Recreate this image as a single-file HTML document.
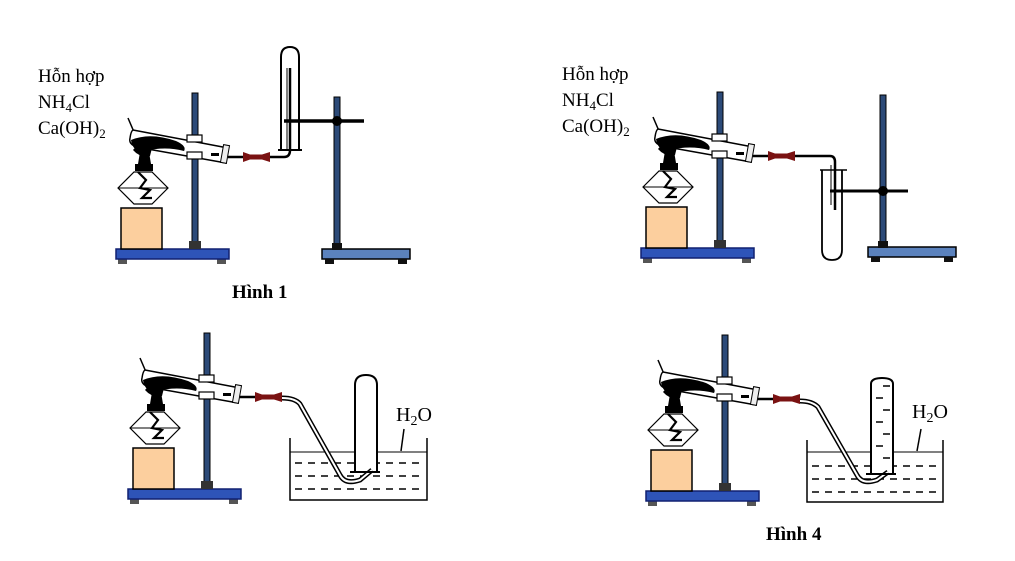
<!DOCTYPE html>
<html><head><meta charset="utf-8"><style>
html,body{margin:0;padding:0;background:#fff;width:1015px;height:561px;overflow:hidden}
svg{display:block}
text{font-family:"Liberation Serif",serif;fill:#000}
</style></head><body>
<svg width="1015" height="561" viewBox="0 0 1015 561" xmlns="http://www.w3.org/2000/svg">
<defs>
<g id="heat">
  <rect x="118" y="259" width="9" height="5" fill="#555"/>
  <rect x="217" y="259" width="9" height="5" fill="#555"/>
  <rect x="116" y="249" width="113" height="10" fill="#2e54b8" stroke="#102070" stroke-width="1.5"/>
  <rect x="192" y="93" width="6" height="150" fill="#2c4a78" stroke="#000" stroke-width="1"/>
  <rect x="189" y="241" width="12" height="8" fill="#333"/>
  <rect x="121" y="208" width="41" height="41" fill="#fccf9e" stroke="#000" stroke-width="1.5"/>
  <polygon points="118,188 134,172 152,172 168,188 152,204 134,204" fill="#fff" stroke="#000" stroke-width="1.2"/>
  <line x1="118" y1="188" x2="168" y2="188" stroke="#000" stroke-width="1"/>
  <path d="M138,172 L146,180 L140,188 L150,190 L142,198 L152,198" fill="none" stroke="#000" stroke-width="2.2"/>
  <rect x="135" y="164" width="18" height="7" fill="#000"/>
  <path d="M138,164 L140,152 Q144,145 149,152 L151,164 Z" fill="#000"/>
  <path d="M133,150 Q140,140 152,148 L150,156 Q140,158 133,150 Z" fill="#000"/>
  <line x1="128" y1="118" x2="134" y2="132" stroke="#000" stroke-width="1.5"/>
  <path d="M133,130 L228,148 L226,163 L142,148 Q128,146 130,138 Q131,131 133,130 Z" fill="#fff" stroke="#000" stroke-width="1.5"/>
  <path d="M131,140 Q150,132 176,141 Q187,146 184,151 Q165,146 145,151 Q133,153 131,140 Z" fill="#000"/>
  <rect x="211" y="153" width="8" height="3" fill="#000"/>
  <rect x="222" y="145" width="6" height="18" fill="#eee" stroke="#000" stroke-width="1" transform="rotate(10 225 154)"/>
  <rect x="187" y="135" width="15" height="7" fill="#fff" stroke="#000" stroke-width="1.2"/>
  <rect x="187" y="152" width="15" height="7" fill="#fff" stroke="#000" stroke-width="1.2"/>
  <line x1="228" y1="157" x2="245" y2="157" stroke="#000" stroke-width="2.5"/>
  <path d="M243,152 L250,154.5 L262,154.5 L270,152 L270,162 L262,159.5 L250,159.5 L243,162 Z" fill="#7a1212"/>
</g>
<g id="stand2">
  <rect x="0" y="152" width="88" height="10" fill="#5b82bd" stroke="#000" stroke-width="1.5"/>
  <rect x="3" y="162" width="9" height="5" fill="#111"/>
  <rect x="76" y="162" width="9" height="5" fill="#111"/>
  <rect x="12" y="0" width="6" height="148" fill="#2c4a78" stroke="#000" stroke-width="1"/>
  <rect x="10" y="146" width="10" height="7" fill="#111"/>
</g>
</defs>

<use href="#heat"/>
<use href="#stand2" x="322" y="97"/>
<line x1="284" y1="121" x2="364" y2="121" stroke="#000" stroke-width="3.5"/>
<circle cx="337" cy="121" r="5" fill="#000"/>
<path d="M281,150 L281,57 Q281,47 290,47 Q299,47 299,57 L299,150" fill="none" stroke="#000" stroke-width="2"/>
<line x1="278" y1="150" x2="302" y2="150" stroke="#000" stroke-width="2"/>
<path d="M270,157 L284,157 Q290,157 290,150 L290,68" fill="none" stroke="#000" stroke-width="2.5"/>
<line x1="287" y1="68" x2="287" y2="150" stroke="#000" stroke-width="1"/>

<use href="#heat" x="525" y="-1"/>
<use href="#stand2" x="868" y="95"/>
<line x1="830" y1="191" x2="908" y2="191" stroke="#000" stroke-width="3"/>
<circle cx="883" cy="191" r="5" fill="#000"/>
<path d="M822,170 L822,250 Q822,260 832,260 Q842,260 842,250 L842,170" fill="none" stroke="#000" stroke-width="1.8"/>
<line x1="820" y1="170" x2="847" y2="170" stroke="#000" stroke-width="1.5"/>
<path d="M795,156 L830,156 Q835,156 835,162 L835,210" fill="none" stroke="#000" stroke-width="2.5"/>
<line x1="831" y1="165" x2="831" y2="205" stroke="#000" stroke-width="1"/>

<use href="#heat" x="12" y="240"/>
<path d="M290,438 L290,500 L427,500 L427,438" fill="none" stroke="#000" stroke-width="1.5"/>
<line x1="290" y1="452" x2="427" y2="452" stroke="#000" stroke-width="1"/>
<g stroke="#000" stroke-width="1.5" stroke-dasharray="7,6">
<line x1="295" y1="463" x2="425" y2="463"/>
<line x1="295" y1="476" x2="425" y2="476"/>
<line x1="295" y1="489" x2="425" y2="489"/>
</g>
<path d="M355,472 L355,385 Q355,375 366,375 Q377,375 377,385 L377,472" fill="#fff" stroke="#000" stroke-width="2"/>
<path d="M282,398 Q295,398 300,404 L340,475 Q345,485 360,480 L372,470" fill="none" stroke="#000" stroke-width="5"/>
<path d="M282,398 Q295,398 300,404 L340,475 Q345,485 360,480 L372,470" fill="none" stroke="#fff" stroke-width="2"/>
<line x1="350" y1="472" x2="380" y2="472" stroke="#000" stroke-width="2"/>
<text x="396" y="421" font-size="20">H<tspan font-size="14" dy="4">2</tspan><tspan dy="-4">O</tspan></text>
<line x1="404" y1="429" x2="401" y2="451" stroke="#000" stroke-width="1.5"/>

<use href="#heat" x="530" y="242"/>
<path d="M807,440 L807,502 L943,502 L943,440" fill="none" stroke="#000" stroke-width="1.5"/>
<line x1="807" y1="452" x2="943" y2="452" stroke="#000" stroke-width="1"/>
<g stroke="#000" stroke-width="1.5" stroke-dasharray="7,6">
<line x1="812" y1="466" x2="940" y2="466"/>
<line x1="812" y1="479" x2="940" y2="479"/>
<line x1="812" y1="492" x2="940" y2="492"/>
</g>
<path d="M871,474 L871,384 Q871,378 882,378 Q893,378 893,384 L893,474" fill="#fff" stroke="#000" stroke-width="2"/>
<g stroke="#000" stroke-width="1.5">
<line x1="883" y1="386" x2="890" y2="386"/><line x1="876" y1="398" x2="883" y2="398"/>
<line x1="883" y1="410" x2="890" y2="410"/><line x1="876" y1="422" x2="883" y2="422"/>
<line x1="883" y1="434" x2="890" y2="434"/><line x1="876" y1="446" x2="883" y2="446"/>
<line x1="883" y1="458" x2="890" y2="458"/>
</g>
<path d="M800,401 Q812,401 818,407 L857,475 Q862,485 877,480 L888,472" fill="none" stroke="#000" stroke-width="5"/>
<path d="M800,401 Q812,401 818,407 L857,475 Q862,485 877,480 L888,472" fill="none" stroke="#fff" stroke-width="2"/>
<line x1="866" y1="474" x2="896" y2="474" stroke="#000" stroke-width="2"/>
<text x="912" y="418" font-size="20">H<tspan font-size="14" dy="4">2</tspan><tspan dy="-4">O</tspan></text>
<line x1="921" y1="429" x2="917" y2="451" stroke="#000" stroke-width="1.5"/>

<g font-size="19">
<text x="38" y="82">Hỗn hợp</text>
<text x="38" y="108">NH<tspan font-size="13" dy="4">4</tspan><tspan dy="-4">Cl</tspan></text>
<text x="38" y="134">Ca(OH)<tspan font-size="13" dy="4">2</tspan></text>
<text x="562" y="80">Hỗn hợp</text>
<text x="562" y="106">NH<tspan font-size="13" dy="4">4</tspan><tspan dy="-4">Cl</tspan></text>
<text x="562" y="132">Ca(OH)<tspan font-size="13" dy="4">2</tspan></text>
</g>
<text x="232" y="298" font-size="19" font-weight="bold">Hình 1</text>
<text x="766" y="540" font-size="19" font-weight="bold">Hình 4</text>
</svg>
</body></html>
